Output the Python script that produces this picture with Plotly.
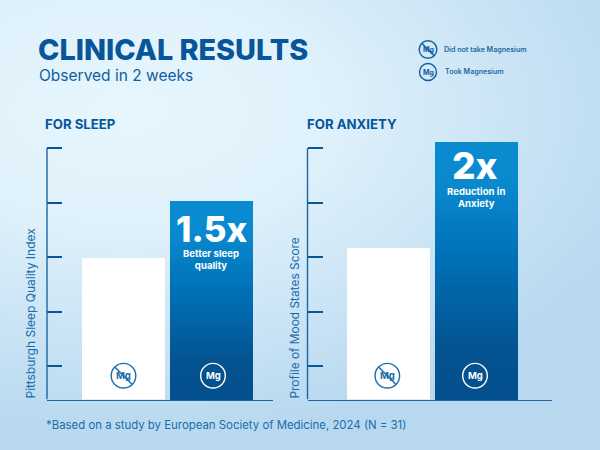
import base64
import plotly.graph_objects as go

CATEGORIES = ["Did not take Magnesium", "Took Magnesium"]
SLEEP_VALUES = [29.8, 40.2]
ANXIETY_VALUES = [31.7, 51.1]
TICK_VALUES = [10, 20, 30, 40, 50]
AXIS_FLOOR = 3.85
AXIS_CEIL = 53.3

MID = "#1a6cab"
FONT = "Inter"
W, H = 600, 450


def px(x):
    return x / W


def py(y):
    return 1 - y / H


def mix(a, b, t):
    ca = [int(a[i:i + 2], 16) for i in (1, 3, 5)]
    cb = [int(b[i:i + 2], 16) for i in (1, 3, 5)]
    return "rgb(%d,%d,%d)" % tuple(round(p + (q - p) * t) for p, q in zip(ca, cb))


STOPS = [(0.0, "#04508f"), (0.2, "#04528f"), (0.55, "#0070b6"), (0.85, "#0a89cf"), (1.0, "#0a8bd0")]


def grad(f):
    for (f0, c0), (f1, c1) in zip(STOPS, STOPS[1:]):
        if f <= f1:
            return mix(c0, c1, (f - f0) / (f1 - f0))
    return STOPS[-1][1]


svg = f"""<svg xmlns="http://www.w3.org/2000/svg" width="{W}" height="{H}" viewBox="0 0 {W} {H}">
<defs><radialGradient id="g" gradientUnits="userSpaceOnUse" cx="0" cy="0" r="1"
 gradientTransform="translate(130 110) scale(560 330)">
<stop offset="0" stop-color="#e7f6fd"/><stop offset="0.35" stop-color="#dff1fb"/>
<stop offset="1" stop-color="#b7d8ef"/></radialGradient></defs>
<rect width="{W}" height="{H}" fill="#b7d8ef"/><rect width="{W}" height="{H}" fill="url(#g)"/></svg>"""
bg = "data:image/svg+xml;base64," + base64.b64encode(svg.encode()).decode()

fig = go.Figure()
N_BANDS = 60


def add_panel(values, xa, ya):
    fig.add_trace(go.Bar(x=[CATEGORIES[0]], y=[values[0] - AXIS_FLOOR], base=AXIS_FLOOR, width=0.9375,
                         marker=dict(color="white", line_width=0), xaxis=xa, yaxis=ya,
                         showlegend=False, hoverinfo="skip"))
    span = values[1] - AXIS_FLOOR
    fr = [(N_BANDS - i) / N_BANDS for i in range(N_BANDS)]
    fig.add_trace(go.Bar(x=[CATEGORIES[1]] * N_BANDS, y=[span * f for f in fr], base=AXIS_FLOOR, width=0.9375,
                         marker=dict(color=[grad(f) for f in fr], line_width=0), xaxis=xa, yaxis=ya,
                         showlegend=False, hoverinfo="skip"))


add_panel(SLEEP_VALUES, "x", "y")
add_panel(ANXIETY_VALUES, "x2", "y2")

annos = []
shapes = []


def text(x, y, s, size, color, weight=400, anchor="left", angle=0, yanchor="middle"):
    annos.append(dict(xref="paper", yref="paper", x=px(x), y=py(y), text=s, showarrow=False,
                      xanchor=anchor, yanchor=yanchor, textangle=angle,
                      font=dict(family=FONT, size=size, color=color, weight=weight)))


def icon(cx, cy, r, color, strike, size, width=1.4):
    shapes.append(dict(type="circle", xref="paper", yref="paper", x0=px(cx - r), x1=px(cx + r),
                       y0=py(cy + r), y1=py(cy - r), line=dict(color=color, width=width)))
    text(cx, cy, "Mg", size, color, 700, "center")
    if strike:
        d = r * 0.71
        shapes.append(dict(type="line", xref="paper", yref="paper", x0=px(cx - d), x1=px(cx + d),
                           y0=py(cy - d), y1=py(cy + d), line=dict(color=color, width=width)))


text(36, 49.5, "CLINICAL RESULTS", 28.8, "#07559a", 800)
text(37, 75.5, "Observed in 2 weeks", 15.5, "#0f5f9f")
text(43, 124.5, "FOR SLEEP", 13.2, "#07559a", 700)
text(305, 124.5, "FOR ANXIETY", 13.2, "#07559a", 700)
text(442, 49.5, "Did not take Magnesium", 7.1, "#1d68a6", 600)
text(443, 71.5, "Took Magnesium", 7.1, "#1d68a6", 600)
text(30, 401, "Pittsburgh Sleep Quality Index", 12, MID, 400, "center", -90, "bottom")
text(294, 401, "Profile of Mood States Score", 11.9, MID, 400, "center", -90, "bottom")
text(44, 425, "*Based on a study by European Society of Medicine, 2024 (N = 31)", 11.4, MID)
text(211, 228.5, "1.5x", 35, "white", 800, "center")
text(211, 259, "Better sleep<br>quality", 9.6, "white", 700, "center")
text(475, 165.5, "2x", 37, "white", 800, "center")
text(476, 197.5, "Reduction in<br>Anxiety", 9.6, "white", 700, "center")

icon(123.5, 375.7, 12.3, "#1a6cab", True, 9.5)
icon(213, 375.7, 12.3, "white", False, 9.5)
icon(387.3, 375.7, 12.3, "#1a6cab", True, 9.5)
icon(475, 375.7, 12.3, "white", False, 9.5)
icon(428, 49.5, 8.8, "#0f5f9f", True, 7)
icon(428, 72, 8.5, "#0f5f9f", False, 7)

# the spine stops at the top tick while the tallest bar rises above it
for xd, yd in (("x domain", "y"), ("x2 domain", "y2")):
    shapes.append(dict(type="line", xref=xd, yref=yd, x0=0, x1=0, y0=AXIS_FLOOR, y1=TICK_VALUES[-1],
                       line=dict(color="#1a66a6", width=1.4)))

yax = dict(range=[AXIS_FLOOR, AXIS_CEIL], tickmode="array", tickvals=TICK_VALUES, ticks="inside", ticklen=15,
           tickwidth=2.3, tickcolor="#07559a", showticklabels=False, showgrid=False, zeroline=False,
           showline=False, domain=[py(399.6), py(130)])
xax = dict(type="category", categoryorder="array", categoryarray=CATEGORIES, showticklabels=False, ticks="",
           showgrid=False, zeroline=False, showline=True, linecolor="#1a66a6", linewidth=1.4)

fig.update_layout(
    width=W, height=H, margin=dict(l=0, r=0, t=0, b=0), barmode="overlay", bargap=0,
    paper_bgcolor="#d4e9f7", plot_bgcolor="rgba(0,0,0,0)", showlegend=False,
    xaxis=dict(xax, range=[-0.872, 1.696], domain=[px(47), px(273)], anchor="y"),
    yaxis=dict(yax, anchor="x"),
    xaxis2=dict(xax, range=[-0.912, 1.863], domain=[px(307.5), px(551.7)], anchor="y2"),
    yaxis2=dict(yax, anchor="x2"),
    annotations=annos, shapes=shapes,
    images=[dict(source=bg, xref="paper", yref="paper", x=0, y=1, sizex=1, sizey=1,
                 sizing="stretch", xanchor="left", yanchor="top", layer="below")],
)
fig.write_html("out.html", config=dict(displayModeBar=False),
               post_script="document.body.style.margin='0';")
